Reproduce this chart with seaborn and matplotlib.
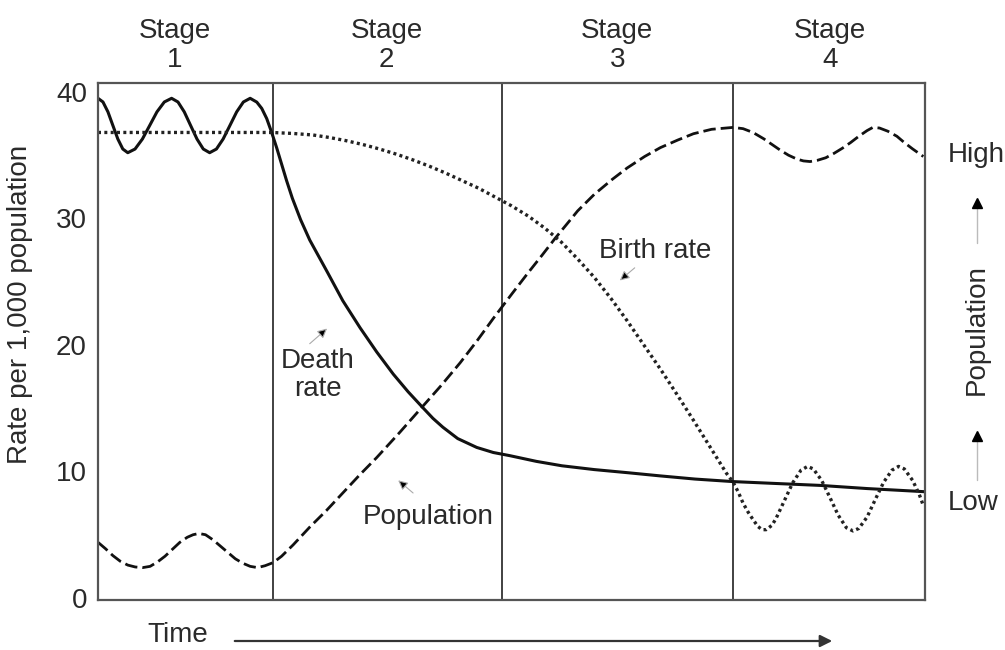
import numpy as np
import pandas as pd
import matplotlib
matplotlib.use("Agg")
import matplotlib.pyplot as plt
from matplotlib.lines import Line2D
import seaborn as sns

# ---------------- data ----------------
# time axis runs 0..100 (no ticks), rates per 1,000 population
death_x = [0, 0.6, 1.2, 1.8, 2.4, 3.0, 3.6, 4.48, 5.37, 6.25, 7.13, 8.02, 8.9,
           9.67, 10.43, 11.2, 11.97, 12.73, 13.5, 14.32, 15.13, 15.95, 16.77, 17.58, 18.4,
           19.2, 19.8, 20.4, 21.0, 21.6, 22.2, 22.8, 23.5, 24.5, 25.6, 27.7, 29.6,
           31.7, 33.7, 35.7, 37.5, 39.2, 40.5, 41.7, 43.5, 45.8, 47.8, 49.8, 53.0, 56.1,
           60.0, 64.1, 68.0, 72.2, 76.8, 82.0, 87.3, 93.0, 100]
death_y = [39.5, 39.21, 38.43, 37.35, 36.28, 35.49, 35.2, 35.49, 36.28, 37.35, 38.43, 39.21, 39.5,
           39.21, 38.43, 37.35, 36.28, 35.49, 35.2, 35.49, 36.28, 37.35, 38.43, 39.21, 39.5,
           39.2, 38.7, 37.9, 36.8, 35.6, 34.3, 33.0, 31.6, 29.9, 28.3, 25.8, 23.5,
           21.35, 19.45, 17.7, 16.3, 15.1, 14.2, 13.5, 12.6, 11.9, 11.5, 11.25, 10.8, 10.45,
           10.15, 9.9, 9.65, 9.4, 9.2, 9.05, 8.9, 8.65, 8.4]

dashed_x = [0, 0.9, 1.8, 2.7, 3.6, 4.5, 5.4, 6.3, 7.2, 8.1, 9.0, 9.9, 10.8, 11.5, 12.2,
            13.0, 13.9, 14.8, 15.7, 16.6, 17.5, 18.4, 19.3, 20.2, 21.2, 22.2, 23.6, 25.6,
            27.6, 29.6, 31.6, 33.7, 36.5, 39.2, 41.5, 43.8, 45.8, 47.8, 50.0, 52.0, 53.7,
            55.3, 57.0, 58.0, 60.0, 62.2, 64.0, 66.1, 68.0, 70.1, 72.0, 74.2, 76.8, 78.0,
            79.2, 80.5, 81.5, 82.5, 83.5, 84.5, 85.3, 86.1, 87.0, 88.0, 89.0, 90.0, 91.0,
            92.0, 93.0, 93.7, 94.5, 95.5, 96.6, 97.5, 98.5, 99.8]
dashed_y = [4.4, 3.9, 3.35, 2.9, 2.6, 2.45, 2.4, 2.5, 2.85, 3.3, 3.85, 4.4, 4.8, 5.0, 5.1,
            5.0, 4.6, 4.1, 3.6, 3.1, 2.75, 2.5, 2.4, 2.55, 2.8, 3.3, 4.2, 5.6,
            6.9, 8.3, 9.7, 11.1, 13.1, 15.1, 16.8, 18.6, 20.3, 22.1, 24.0, 25.7, 27.1,
            28.45, 29.8, 30.6, 31.9, 33.1, 34.0, 34.9, 35.6, 36.2, 36.7, 37.05, 37.2, 37.1,
            36.8, 36.3, 35.85, 35.4, 35.0, 34.7, 34.55, 34.5, 34.6, 34.8, 35.15, 35.55, 36.0,
            36.5, 36.95, 37.2, 37.15, 36.9, 36.5, 36.0, 35.5, 34.9]

dotted_x = [0, 10.0, 21.0, 23.6, 26.0, 28.0, 30.0, 32.0, 34.0, 36.0, 38.0, 40.0, 42.0, 44.0,
            46.0, 48.0, 50.0, 52.0, 54.0, 56.0, 58.0, 60.0, 62.0, 64.0, 66.0, 68.0, 70.0,
            72.0, 74.0, 76.0, 76.8, 77.4, 78.0, 78.6, 79.2, 79.8, 80.3, 80.8, 81.5, 82.0,
            83.0, 84.0, 85.0, 85.8, 86.5, 87.5, 88.5, 89.5, 90.5, 91.3, 92.0, 93.0, 94.0,
            95.0, 96.0, 96.8, 97.5, 98.5, 99.3, 99.8]
dotted_y = [36.8, 36.8, 36.8, 36.72, 36.6, 36.4, 36.15, 35.85, 35.5, 35.1, 34.65, 34.15, 33.6, 33.0,
            32.4, 31.7, 31.0, 30.2, 29.25, 28.15, 26.8, 25.35, 23.7, 21.9, 20.0, 18.1, 16.1,
            14.05, 11.95, 9.85, 9.15, 8.4, 7.5, 6.8, 6.2, 5.65, 5.4, 5.4, 5.75, 6.3,
            7.7, 9.1, 10.1, 10.4, 10.2, 9.3, 7.95, 6.55, 5.55, 5.3, 5.5, 6.4, 7.8,
            9.15, 10.1, 10.4, 10.2, 9.3, 8.2, 7.3]

stage_bounds = [21.2, 48.9, 76.8]
stage_centers = [9.3, 34.9, 62.8, 88.5]
stage_labels = ["Stage\n1", "Stage\n2", "Stage\n3", "Stage\n4"]
y_ticks = [0, 10, 20, 30, 40]

# ---------------- style ----------------
sns.set_theme(style="white")
plt.rcParams["font.family"] = ["Liberation Sans", "DejaVu Sans"]
TXT = "#2a2a2a"
FS = 20

fig = plt.figure(figsize=(10.05, 6.5), dpi=100)
ax = fig.add_axes([98 / 1005, 1 - 600 / 650, 827 / 1005, 517 / 650])

df_death = pd.DataFrame({"t": death_x, "rate": death_y})
df_dash = pd.DataFrame({"t": dashed_x, "rate": dashed_y})
df_dot = pd.DataFrame({"t": dotted_x, "rate": dotted_y})

sns.lineplot(data=df_death, x="t", y="rate", ax=ax, color="#111111", lw=2.2,
             errorbar=None, estimator=None, sort=False)
sns.lineplot(data=df_dash, x="t", y="rate", ax=ax, color="#111111", lw=2.0,
             linestyle=(0, (4.5, 1.8)), errorbar=None, estimator=None, sort=False)
sns.lineplot(data=df_dot, x="t", y="rate", ax=ax, color="#222222", lw=2.4,
             linestyle=(0, (0.9, 1.0)), errorbar=None, estimator=None, sort=False)

for b in stage_bounds:
    ax.axvline(b, color="#333333", lw=1.3, zorder=1)

ax.set_xlim(0, 100)
ax.set_ylim(-0.16, 40.71)
ax.set_xticks([])
ax.set_yticks(y_ticks)
ax.set_yticklabels([str(v) for v in y_ticks], fontsize=FS, color=TXT)
ax.tick_params(axis="y", length=0, pad=8)
ax.set_xlabel("")
ax.set_ylabel("Rate per 1,000 population", fontsize=FS, color=TXT)
ax.yaxis.set_label_coords(-0.0786, 0.571)
for s in ax.spines.values():
    s.set_color("#555555")
    s.set_linewidth(1.6)

trans = matplotlib.transforms.blended_transform_factory(ax.transData, ax.transAxes)
for xc, lab in zip(stage_centers, stage_labels):
    ax.text(xc, 1.0716, lab, transform=trans, ha="center", va="center",
            fontsize=FS, color=TXT, linespacing=1.15, clip_on=False)

# annotations
ax.text(26.6, 17.6, "Death\nrate", ha="center", va="center", fontsize=FS, color=TXT,
        linespacing=1.1)
ax.annotate("", xy=(27.7, 21.3), xytext=(25.6, 20.1),
            arrowprops=dict(arrowstyle="-|>", fc="black", ec="#aaaaaa", lw=0.8,
                            mutation_scale=14, shrinkA=0, shrinkB=0))
ax.text(39.9, 6.4, "Population", ha="center", va="center", fontsize=FS, color=TXT)
ax.annotate("", xy=(36.3, 9.3), xytext=(38.1, 8.3),
            arrowprops=dict(arrowstyle="-|>", fc="black", ec="#aaaaaa", lw=0.8,
                            mutation_scale=14, shrinkA=0, shrinkB=0))
ax.text(67.4, 27.4, "Birth rate", ha="center", va="center", fontsize=FS, color=TXT)
ax.annotate("", xy=(63.1, 25.1), xytext=(64.9, 26.1),
            arrowprops=dict(arrowstyle="-|>", fc="black", ec="#aaaaaa", lw=0.8,
                            mutation_scale=14, shrinkA=0, shrinkB=0))

# figure-level texts
def fx(px):
    return px / 1005

def fy(py):
    return 1 - py / 650

fig.text(fx(178), fy(635), "Time", ha="center", va="center", fontsize=FS, color=TXT)
fig.add_artist(matplotlib.patches.FancyArrowPatch(
    (fx(232), fy(641)), (fx(835), fy(641)), transform=fig.transFigure,
    arrowstyle="-|>", mutation_scale=18, lw=1.6, color="#333333"))

fig.text(fx(948), fy(155), "High", ha="left", va="center", fontsize=FS, color=TXT)
fig.text(fx(948), fy(503), "Low", ha="left", va="center", fontsize=FS, color=TXT)
fig.text(fx(977), fy(330), "Population", ha="center", va="center", rotation=90,
         fontsize=FS, color=TXT)
for (y0, y1) in [(243, 203), (480, 436)]:
    fig.add_artist(Line2D([fx(977), fx(977)], [fy(y0), fy(y1)], transform=fig.transFigure,
                          color="#bbbbbb", lw=1.0))
    fig.add_artist(Line2D([fx(977)], [fy(y1)], transform=fig.transFigure, marker="^",
                          markersize=7, color="black", lw=0))

fig.savefig("out.png", dpi=100, facecolor="white")
